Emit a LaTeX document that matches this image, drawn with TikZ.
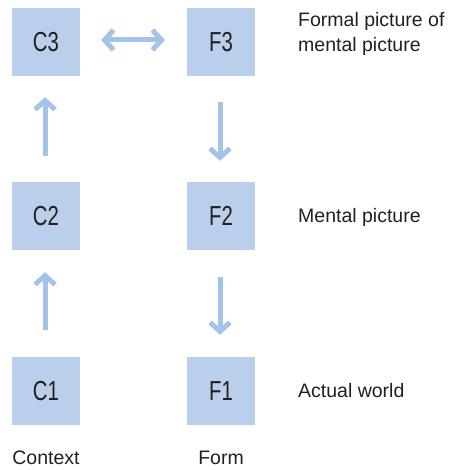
\documentclass[tikz,border=0pt]{standalone}
\usepackage{fontspec}
\setmainfont{Liberation Sans}
\newfontfamily\boxfont[FakeStretch=0.74]{Liberation Sans}
\usetikzlibrary{arrows.meta}
\definecolor{boxblue}{HTML}{BACFEC}
\definecolor{arrowblue}{HTML}{A3C3E8}
\definecolor{txt}{HTML}{231F20}
\tikzset{
  x=1pt, y=-1pt,
  box/.style={fill=boxblue, draw=none, minimum width=68pt, minimum height=68pt, inner sep=0pt, text=txt, font=\boxfont\fontsize{27.5}{30}\selectfont},
  conn/.style={draw=arrowblue, line width=5pt, line cap=butt, -{Straight Barb[length=9pt,width=20pt,line cap=butt]}},
  conn2/.style={draw=arrowblue, line width=5pt, line cap=butt, {Straight Barb[length=9pt,width=20pt,line cap=butt]}-{Straight Barb[length=9pt,width=20pt,line cap=butt]}},
  side/.style={anchor=base west, inner sep=0pt, text=txt, font=\fontsize{19.5}{25}\selectfont, align=left},
  bottom/.style={anchor=base, inner sep=0pt, text=txt, font=\fontsize{19.5}{25}\selectfont},
}
\begin{document}
\begin{tikzpicture}
\useasboundingbox (0,0) rectangle (449,470);
\node[box] (C3) at (46,42) {C3};
\node[box] (F3) at (221,42) {F3};
\node[box] (C2) at (46,216) {C2};
\node[box] (F2) at (221,216) {F2};
\node[box] (C1) at (46,391) {C1};
\node[box] (F1) at (221,391) {F1};

\draw[conn2] ([xshift=21pt,yshift=2pt]C3.east) -- ([xshift=-22pt,yshift=2pt]F3.west);
\draw[conn] ([xshift=-1pt,yshift=26pt]C2.north) -- ([xshift=-1pt,yshift=-21pt]C3.south);
\draw[conn] ([xshift=-1pt,yshift=-26pt]F3.south) -- ([xshift=-1pt,yshift=21pt]F2.north);
\draw[conn] ([xshift=-1pt,yshift=27pt]C1.north) -- ([xshift=-1pt,yshift=-22pt]C2.south);
\draw[conn] ([xshift=-1pt,yshift=-27pt]F2.south) -- ([xshift=-1pt,yshift=22pt]F1.north);

\node[side] (t3) at (298,51.7) {Formal picture of\\mental picture};
\node[side] (t2) at (298,222.5) {Mental picture};
\node[side] (t1) at (298,397.5) {Actual world};
\node[bottom] (ctx) at (46,464) {Context};
\node[bottom] (frm) at (221,464) {Form};
\end{tikzpicture}
\end{document}
